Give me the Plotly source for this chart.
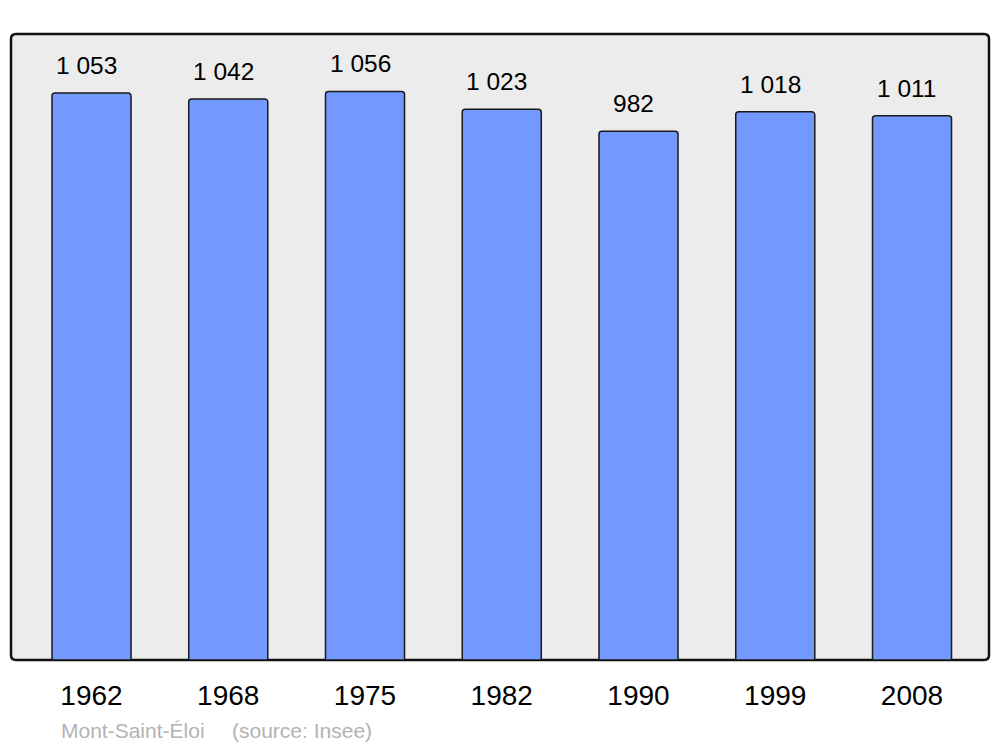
import plotly.graph_objects as go

years = ["1962", "1968", "1975", "1982", "1990", "1999", "2008"]
population = [1053, 1042, 1056, 1023, 982, 1018, 1011]
value_labels = ["1 053", "1 042", "1 056", "1 023", "982", "1 018", "1 011"]
commune = "Mont-Saint-Éloi"
source = "(source: Insee)"

W, H = 1000, 747
L, R, T, B = 11, 11, 34, 87
pw, ph = W - L - R, H - T - B

fig = go.Figure()
fig.add_trace(go.Bar(
    x=years, y=population, width=0.578,
    marker=dict(color="#7399ff", line=dict(color="#1a1a1a", width=1.5), cornerradius=3),
    hoverinfo="skip",
))

for i, (v, lab) in enumerate(zip(population, value_labels)):
    fig.add_annotation(x=i, y=v, text=lab, showarrow=False, yanchor="bottom",
                       xshift=-5, yshift=12,
                       font=dict(family="Liberation Sans, Arial", size=24.5, color="black"))

# rounded plot frame
rx, ry = 5 / pw, 5 / ph
path = (f"M {rx},0 L {1-rx},0 Q 1,0 1,{ry} L 1,{1-ry} Q 1,1 {1-rx},1 "
        f"L {rx},1 Q 0,1 0,{1-ry} L 0,{ry} Q 0,0 {rx},0 Z")
fig.add_shape(type="path", xref="paper", yref="paper", path=path,
              fillcolor="#ececec", line=dict(color="#111111", width=2.5), layer="below")

fig.add_annotation(xref="paper", yref="paper", x=(59 - L) / pw, y=-(730 - T - ph) / ph,
                   xanchor="left", yanchor="middle", text=commune, showarrow=False,
                   font=dict(family="Liberation Sans, Arial", size=21, color="#b3b3b3"))
fig.add_annotation(xref="paper", yref="paper", x=(230 - L) / pw, y=-(730 - T - ph) / ph,
                   xanchor="left", yanchor="middle", text=source, showarrow=False,
                   font=dict(family="Liberation Sans, Arial", size=21, color="#b3b3b3"))

fig.update_layout(
    width=W, height=H,
    margin=dict(l=L, r=R, t=T, b=B, pad=0),
    paper_bgcolor="white", plot_bgcolor="rgba(0,0,0,0)",
    showlegend=False,
    xaxis=dict(type="category", range=[-0.5887, 6.563], showgrid=False, zeroline=False,
               showline=False, ticks="outside", ticklen=10, tickcolor="rgba(0,0,0,0)",
               tickfont=dict(family="Liberation Sans, Arial", size=28, color="black")),
    yaxis=dict(range=[0, 1162.6], showgrid=False, zeroline=False, showline=False,
               showticklabels=False, ticks=""),
)

fig.write_html("out.html", config={"displayModeBar": False},
               post_script="document.body.style.margin='0';document.body.style.padding='0';")
